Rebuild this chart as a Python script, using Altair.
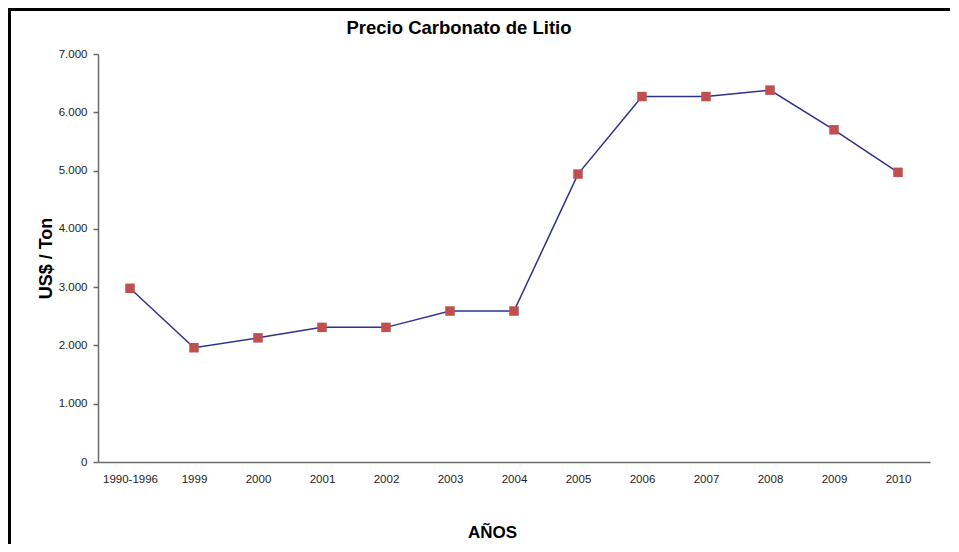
import altair as alt
import pandas as pd

anios = ["1990-1996", "1999", "2000", "2001", "2002", "2003", "2004",
         "2005", "2006", "2007", "2008", "2009", "2010"]
precios = [2980, 1960, 2130, 2310, 2310, 2590, 2590,
           4940, 6270, 6270, 6380, 5700, 4970]
y_ticks = [0, 1000, 2000, 3000, 4000, 5000, 6000, 7000]

df = pd.DataFrame({"anio": anios, "precio": precios})
frame_df = pd.DataFrame({"k": [0]})

FONT = "Liberation Sans"
AXIS_GRAY = "#6b6b6b"

x_enc = alt.X(
    "anio:N", sort=anios,
    scale=alt.Scale(type="point", padding=0.5),
    axis=alt.Axis(
        title="AÑOS", labelAngle=0, ticks=False, labelPadding=11,
        labelFontSize=11.5, labelColor="#222", labelFont=FONT,
        domainColor=AXIS_GRAY, domainWidth=1.5,
        titleFont=FONT, titleFontSize=17, titleFontWeight="bold",
        titleColor="#000", titleX=394, titleY=70, titleBaseline="middle",
    ),
)
y_enc = alt.Y(
    "precio:Q",
    scale=alt.Scale(domain=[0, 7000], nice=False),
    axis=alt.Axis(
        title="US$ / Ton", values=y_ticks, grid=False,
        labelExpr="replace(format(datum.value, ',d'), ',', '.')",
        tickSize=5, tickColor=AXIS_GRAY, tickWidth=1.5, labelPadding=6,
        labelFontSize=11.5, labelColor="#222", labelFont=FONT,
        domainColor=AXIS_GRAY, domainWidth=1.5,
        titleFont=FONT, titleFontSize=18, titleFontWeight="bold",
        titleColor="#000", titleX=-52, titleY=204, titleBaseline="middle",
    ),
)

base = alt.Chart(df).encode(x=x_enc, y=y_enc)
line = base.mark_line(color="#303090", strokeWidth=1.5)
points = base.mark_square(size=90, color="#C0504D", opacity=1)

top_rule = alt.Chart(frame_df).mark_rule(color="#000", strokeWidth=3).encode(
    x=alt.value(-90), x2=alt.value(852), y=alt.value(-44.5)
)
left_rule = alt.Chart(frame_df).mark_rule(color="#000", strokeWidth=3).encode(
    x=alt.value(-88.5), y=alt.value(-46), y2=alt.value(490)
)

chart = alt.layer(line, points, top_rule, left_rule).properties(
    width=832, height=408,
    autosize=alt.AutoSizeParams(type="none"),
    padding={"left": 90, "top": 46, "right": 20, "bottom": 82},
    background="white",
    title=alt.TitleParams(
        "Precio Carbonato de Litio", font=FONT, fontSize=18.5, fontWeight="bold",
        color="#000", anchor="middle", frame="group", dx=-55,
        baseline="alphabetic", offset=-46,
    ),
).configure_view(stroke=None)

chart.save("out.html", embed_options={"renderer": "svg", "actions": False})
